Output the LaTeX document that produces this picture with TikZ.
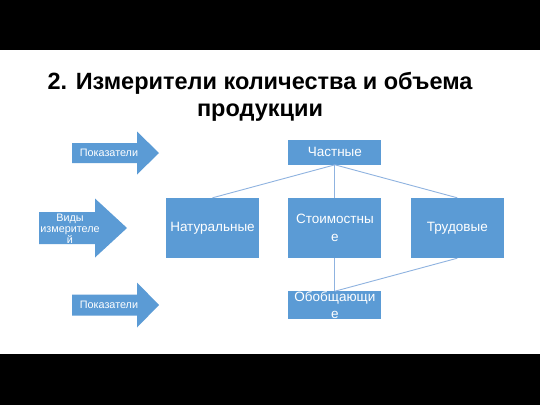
\documentclass[tikz,border=0pt]{standalone}
\usepackage{fontspec}
\setmainfont{Liberation Sans}
\usetikzlibrary{positioning}
\definecolor{slideblue}{HTML}{5B9BD5}
\definecolor{linkblue}{HTML}{8FB3E0}
% block arrow: left x, tip x, mid y, half body, half head, head start x
\newcommand{\blockarrow}[6]{%
  \fill[slideblue] (#1,#3-#4) -- (#6,#3-#4) -- (#6,#3-#5) -- (#2,#3)
    -- (#6,#3+#5) -- (#6,#3+#4) -- (#1,#3+#4) -- cycle;}
\tikzset{
  box/.style={fill=slideblue, text=white, minimum width=93pt, inner sep=0pt,
    align=center, font=\fontsize{13.5}{17.5}\selectfont},
  arrowtext/.style={text=white, align=center, inner sep=0pt,
    font=\fontsize{10.8}{11}\selectfont},
  link/.style={draw=linkblue, line width=0.9pt}
}

\begin{document}
\begin{tikzpicture}[x=1pt, y=-1pt]
    % slide frame
    \useasboundingbox (0,0) rectangle (540,405);
    \fill[white] (0,0) rectangle (540,405);
    \fill[black] (0,0) rectangle (540,50);
    \fill[black] (0,354) rectangle (540,405);
    % title
    \node[anchor=base, align=center, font=\fontsize{23.5}{27}\selectfont\bfseries]
        (title) at (260,116) {2. Измерители количества и объема\\продукции};
    % arrows on the left
    \blockarrow{72}{159}{153}{10}{21.5}{137}
    \blockarrow{39}{127}{228}{16}{29.5}{95}
    \blockarrow{72}{159}{305}{10.5}{22.5}{137}
    \node[arrowtext] (ind_top) at (109,152.5) {Показатели};
    \node[arrowtext] (kinds) at (70,228.5) {Виды\\измерителе\\й};
    \node[arrowtext] (ind_bot) at (109,305) {Показатели};
    % boxes
    \node[box, minimum height=60pt] (natural) at (212.5,228) {Натуральные};
    \node[box, minimum height=60pt, right=29pt of natural] (cost) {Стоимостны\\е};
    \node[box, minimum height=60pt, right=29pt of cost] (labour) {Трудовые};
    \node[box, minimum height=25pt, above=33pt of cost] (partial) {Частные};
    \node[box, minimum height=25pt, below=33pt of cost] (general) {Обобщающи\\е};
    % links
    \draw[link] (partial.south) -- (natural.north);
    \draw[link] (partial.south) -- (cost.north);
    \draw[link] (partial.south) -- (labour.north);
    \draw[link] (cost.south) -- (general.north);
    \draw[link] (labour.south) -- (general.north);
\end{tikzpicture}
\end{document}
